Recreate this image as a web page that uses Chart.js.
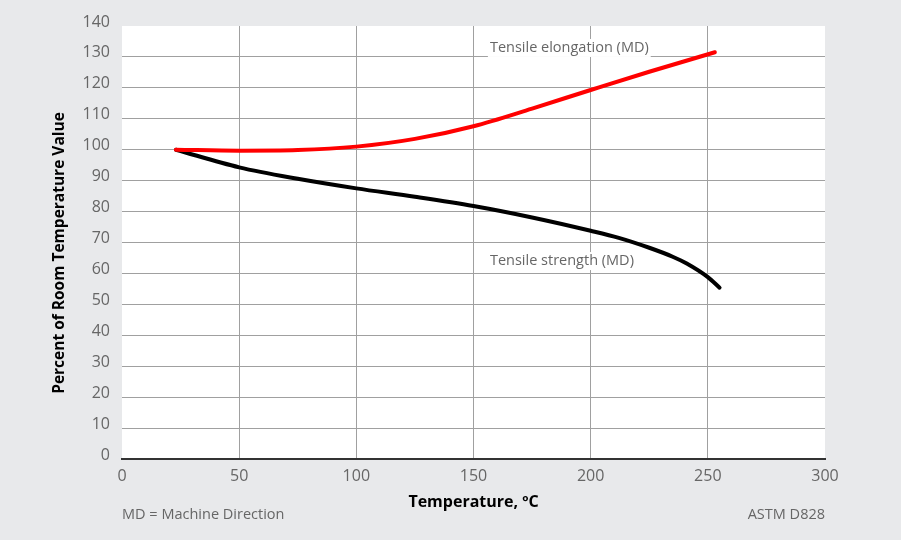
<!DOCTYPE html>
<html lang="en">
<head>
  <meta charset="UTF-8">
  <title>Percent of Room Temperature Value vs Temperature</title>
  <script src="https://cdn.jsdelivr.net/npm/chart.js"></script>
  <style>
    html, body { margin: 0; padding: 0; background: #e8e9eb; }
    #wrap { width: 901px; height: 540px; }
  </style>
</head>
<body>
  <div id="wrap"><canvas id="chart" width="901" height="540"></canvas></div>

  <script>
    // data
    const elongTemp = [23, 50, 75, 100, 125, 150, 175, 200, 225, 253];
    const elongVal = [100, 99.7, 99.9, 101.0, 103.5, 107.6, 113.3, 119.3, 125.2, 131.5];
    const strengthTemp = [23, 50, 75, 100, 125, 150, 175, 200, 212, 225, 235, 241, 250, 255];
    const strengthVal = [100, 94.3, 90.6, 87.5, 84.8, 81.8, 78.1, 73.8, 71.5, 68.3, 65.4, 63.2, 58.8, 55.4];

    const xTicks = [0, 50, 100, 150, 200, 250, 300];
    const yTicks = [0, 10, 20, 30, 40, 50, 60, 70, 80, 90, 100, 110, 120, 130, 140];

    const labels = [
      { text: 'Tensile elongation (MD)', x: 157, y: 132.9 },
      { text: 'Tensile strength (MD)', x: 157, y: 64 }
    ];
    const yTitle = 'Percent of Room Temperature Value';
    const footLeft = 'MD = Machine Direction';
    const footRight = 'ASTM D828';

    const FONT = '"Open Sans", sans-serif';

    function toPoints(xs, ys) {
      return xs.map((x, i) => ({ x: x, y: ys[i] }));
    }

    // white plot area, boxed labels, y title and footnotes
    const decor = {
      id: 'decor',
      beforeDraw(chart) {
        const { ctx, chartArea: a } = chart;
        ctx.save();
        ctx.fillStyle = '#ffffff';
        ctx.fillRect(a.left, a.top, a.right - a.left, a.bottom - a.top);
        ctx.restore();
      },
      beforeDatasetsDraw(chart) {
        const { ctx, scales } = chart;
        ctx.save();
        ctx.font = '14.5px ' + FONT;
        ctx.textBaseline = 'middle';
        labels.forEach(l => {
          const px = scales.x.getPixelForValue(l.x);
          const py = scales.y.getPixelForValue(l.y);
          const w = ctx.measureText(l.text).width;
          ctx.fillStyle = '#ffffff';
          ctx.fillRect(px - 2, py - 9, w + 4, 18);
          ctx.fillStyle = '#666666';
          ctx.fillText(l.text, px, py);
        });
        ctx.restore();
      },
      afterDraw(chart) {
        const { ctx, chartArea: a } = chart;
        ctx.save();
        ctx.font = '14.5px ' + FONT;
        ctx.fillStyle = '#666666';
        ctx.textBaseline = 'middle';
        ctx.textAlign = 'left';
        ctx.fillText(footLeft, a.left, 515);
        ctx.textAlign = 'right';
        ctx.fillText(footRight, a.right, 515);

        ctx.translate(60, 253);
        ctx.rotate(-Math.PI / 2);
        ctx.font = 'bold 15.5px ' + FONT;
        ctx.fillStyle = '#000000';
        ctx.textAlign = 'center';
        ctx.fillText(yTitle, 0, 0);
        ctx.restore();
      }
    };

    new Chart(document.getElementById('chart'), {
      type: 'scatter',
      data: {
        datasets: [
          {
            label: 'Tensile elongation (MD)',
            data: toPoints(elongTemp, elongVal),
            borderColor: '#ff0000',
            borderWidth: 4,
            showLine: true,
            cubicInterpolationMode: 'monotone',
            pointRadius: 0,
            borderCapStyle: 'round'
          },
          {
            label: 'Tensile strength (MD)',
            data: toPoints(strengthTemp, strengthVal),
            borderColor: '#000000',
            borderWidth: 4,
            showLine: true,
            cubicInterpolationMode: 'monotone',
            pointRadius: 0,
            borderCapStyle: 'round'
          }
        ]
      },
      options: {
        responsive: false,
        animation: false,
        layout: { padding: { top: 26, right: 76, bottom: 0, left: 0 } },
        plugins: {
          legend: { display: false },
          tooltip: { enabled: false }
        },
        scales: {
          x: {
            type: 'linear',
            min: 0,
            max: 300,
            afterBuildTicks: s => { s.ticks = xTicks.map(v => ({ value: v })); },
            afterFit: s => { s.height = 81; },
            grid: {
              color: c => (c.tick.value === 0 || c.tick.value === 300) ? 'rgba(0,0,0,0)' : '#a0a0a0',
              lineWidth: 1,
              drawTicks: false
            },
            border: { display: true, color: '#333333', width: 2 },
            ticks: { color: '#666666', font: { family: FONT, size: 16 }, padding: 8 },
            title: {
              display: true,
              text: 'Temperature, ºC',
              color: '#000000',
              font: { family: FONT, size: 16, weight: 'bold' },
              padding: { top: 0, bottom: 28 }
            }
          },
          y: {
            type: 'linear',
            min: 0,
            max: 140,
            afterBuildTicks: s => { s.ticks = yTicks.map(v => ({ value: v })); },
            afterFit: s => { s.width = 122; },
            grid: {
              color: c => (c.tick.value === 0 || c.tick.value === 140) ? 'rgba(0,0,0,0)' : '#a0a0a0',
              lineWidth: 1,
              drawTicks: false
            },
            border: { display: false },
            ticks: { color: '#666666', font: { family: FONT, size: 16 }, padding: 12, labelOffset: -4 },
            title: { display: false }
          }
        }
      },
      plugins: [decor]
    });
  </script>
</body>
</html>
